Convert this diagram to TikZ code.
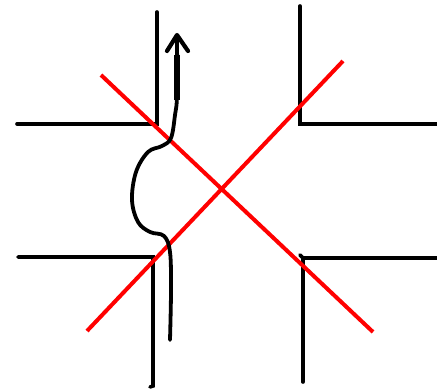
\documentclass[tikz,border=0pt]{standalone}
\usetikzlibrary{arrows.meta}
\begin{document}
\begin{tikzpicture}[x=1pt,y=-1pt,
  wall/.style={black,line width=3.6pt,line cap=round,line join=miter},
  cross/.style={red,line width=4pt},
  pathline/.style={black,line width=3.8pt,line cap=round,line join=round}]
\useasboundingbox (0,0) rectangle (437,390);
% walls
\draw[wall] (17,124) -- (157,124) -- (157,12);
\draw[wall] (300,6) -- (300,124) -- (437,124);
\draw[wall] (18,257) -- (153,257) -- (153,386) -- (150,387);
\draw[wall] (437,258) -- (303,258) -- (303,382);
\draw[wall] (300,255) -- (303,258);
% red cross
\draw[cross] (101,75) -- (373,332);
\draw[cross] (87,331) -- (343,61);
% path
\draw[pathline] plot[smooth,tension=0.6] coordinates {(170,340) (171,290) (170,252) (164,236) (150,232) (138,222) (132,200) (136,172) (148,152) (162,146) (171,138) (175,115) (177,95) (177,36)};
\draw[black,line width=5.5pt] (177,100) -- (177,55);
\draw[pathline,line width=4.2pt] (167,51) -- (177,35) -- (188,51);
\end{tikzpicture}
\end{document}
